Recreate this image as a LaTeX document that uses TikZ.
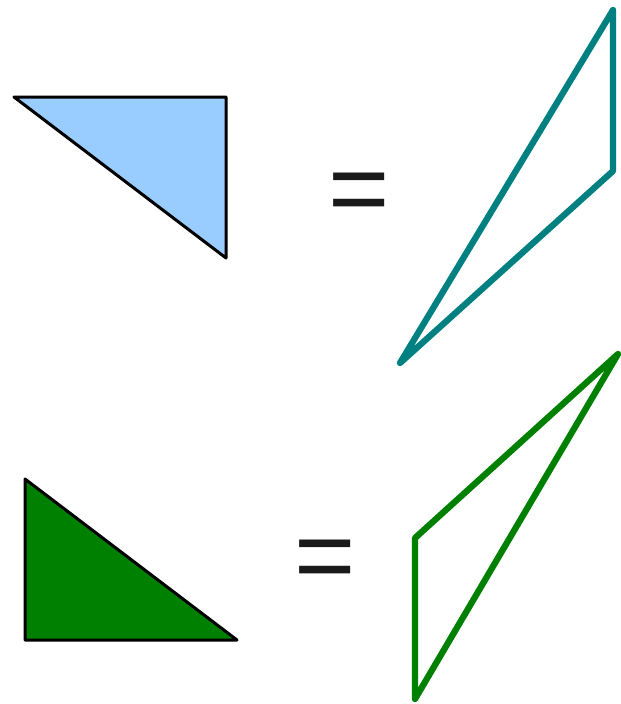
\documentclass[tikz,border=0pt]{standalone}
\usepackage{fontspec}
\newfontfamily\eqfont{Liberation Sans}
\definecolor{lightblue}{RGB}{153,204,255}
\definecolor{tealline}{RGB}{0,128,128}
\definecolor{greenline}{RGB}{0,128,0}
\definecolor{eqgray}{RGB}{26,26,26}
\tikzset{
  filledtri/.style={draw=black, line width=3pt, line join=round},
  outlinetri/.style={line width=6.3pt, line join=round, line cap=round},
  eqsign/.style={inner sep=0pt, anchor=base, text=eqgray, font=\eqfont\fontsize{105}{105}\selectfont}
}
\begin{document}
\begin{tikzpicture}[x=1pt,y=-1pt]
\useasboundingbox (0,0) rectangle (621,704);
% top row
\coordinate (a1) at (14,97);
\coordinate (a2) at (226,97);
\coordinate (a3) at (226,258);
\filldraw[filledtri, fill=lightblue] (a1) -- (a2) -- (a3) -- cycle;
\coordinate (b1) at (613,10);
\coordinate (b2) at (613,171);
\coordinate (b3) at (400,363);
\draw[outlinetri, draw=tealline] (b1) -- (b2) -- (b3) -- cycle;
\node[eqsign] (eq1) at (359,224) {=};
% bottom row
\coordinate (c1) at (25,479);
\coordinate (c2) at (25,640);
\coordinate (c3) at (237,640);
\filldraw[filledtri, fill=greenline] (c1) -- (c2) -- (c3) -- cycle;
\coordinate (d1) at (618,354);
\coordinate (d2) at (415,538);
\coordinate (d3) at (415,699);
\draw[outlinetri, draw=greenline] (d1) -- (d2) -- (d3) -- cycle;
\node[eqsign] (eq2) at (325,591) {=};
\end{tikzpicture}
\end{document}
